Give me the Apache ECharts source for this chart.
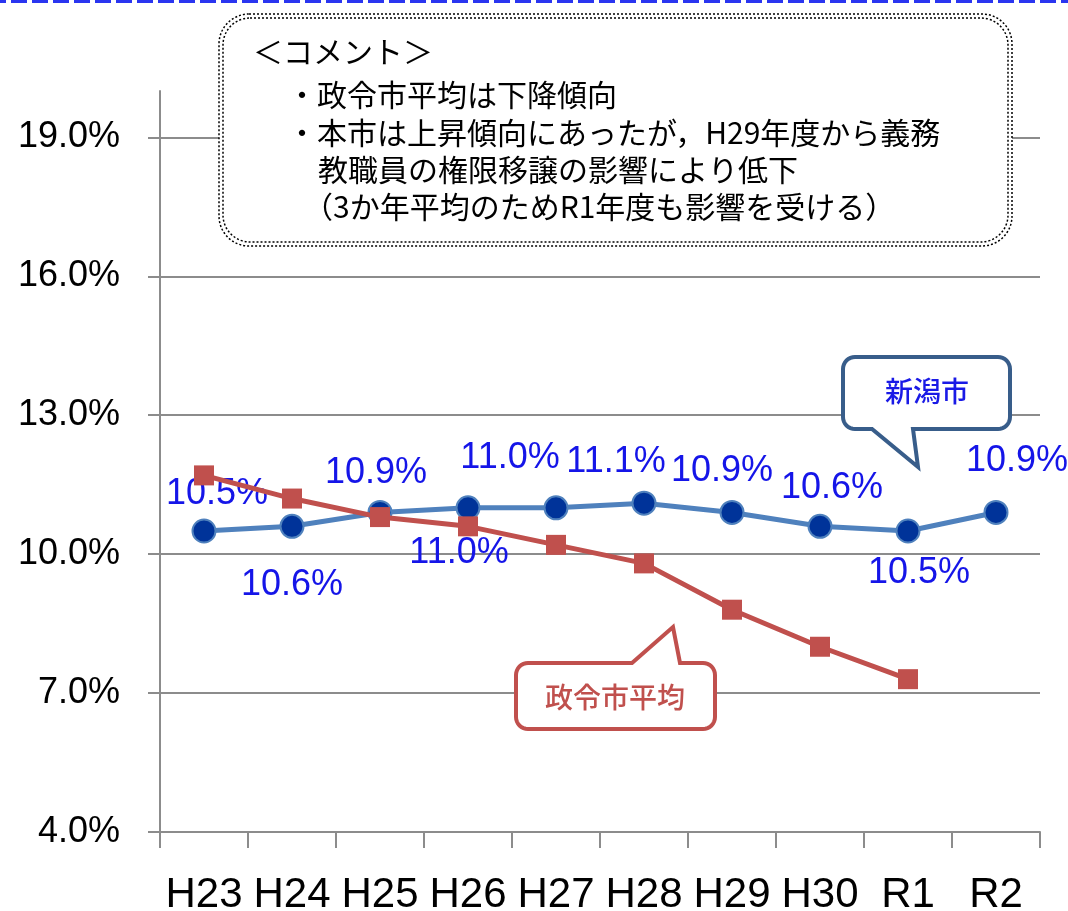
<!DOCTYPE html>
<html><head><meta charset="utf-8">
<script src="https://cdn.jsdelivr.net/npm/echarts@6/dist/echarts.min.js"></script>
<style>html,body{margin:0;padding:0;background:#fff}#c{width:1068px;height:911px}</style>
</head><body><div id="c"></div>
<script>
const categories = ['H23','H24','H25','H26','H27','H28','H29','H30','R1','R2'];
const niigata = [10.5, 10.6, 10.9, 11.0, 11.0, 11.1, 10.9, 10.6, 10.5, 10.9];
const seireiAvg = [11.7, 11.2, 10.8, 10.6, 10.2, 9.8, 8.8, 8.0, 7.3, null];
const yTicks = [4, 7, 10, 13, 16, 19];
const labelOffsets = [[13,-37],[0,59],[-4,-39],[-9,45],[-46,-50],[-28,-41],[-10,-41],[12,-38],[11,42],[21,-51]];
const commentLines = ['＜コメント＞','・政令市平均は下降傾向','・本市は上昇傾向にあったが，H29年度から義務','教職員の権限移譲の影響により低下','（3か年平均のためR1年度も影響を受ける）'];
const commentPos = [[253,52],[287,95],[287,133],[318,170],[303,207]];

// rounded rectangle outline with a tail, as polygon points
function callout(x0, y0, x1, y1, r, tail, side) {
  const pts = [];
  function arc(cx, cy, a0, a1) {
    for (let k = 0; k <= 8; k++) {
      const a = a0 + (a1 - a0) * k / 8;
      pts.push([cx + r * Math.cos(a), cy + r * Math.sin(a)]);
    }
  }
  const P = Math.PI;
  arc(x0 + r, y0 + r, P, 1.5 * P);
  if (side === 'top') tail.forEach(p => pts.push(p));
  arc(x1 - r, y0 + r, 1.5 * P, 2 * P);
  arc(x1 - r, y1 - r, 0, 0.5 * P);
  if (side === 'bottom') tail.forEach(p => pts.push(p));
  arc(x0 + r, y1 - r, 0.5 * P, P);
  return pts;
}

const chart = echarts.init(document.getElementById('c'));
const gray = '#8c8c8c';
const jp = '"Noto Sans CJK JP", sans-serif';
const graphics = [
  {type:'line', shape:{x1:-10,y1:1.5,x2:1068,y2:1.5}, style:{stroke:'#2a35f0', lineWidth:3, lineDash:[16,5]}, z:10},
  {type:'rect', shape:{x:219,y:14,width:793,height:232,r:30}, style:{fill:'#fff', stroke:'#000', lineWidth:1.5, lineDash:[2,2]}, z:10},
  {type:'rect', shape:{x:223,y:18,width:785,height:224,r:27}, style:{fill:'none', stroke:'#000', lineWidth:1.5, lineDash:[2,2]}, z:10},
  {type:'polygon', shape:{points:callout(843,357,1010,429,12,[[913,429],[918,467],[872,429]],'bottom')},
    style:{fill:'#fff', stroke:'#385d8a', lineWidth:4}, z:10},
  {type:'text', x:927, y:391, style:{text:'新潟市', font:'500 28px '+jp, fill:'#1a1ae6', textAlign:'center', textVerticalAlign:'middle'}, z:11},
  {type:'polygon', shape:{points:callout(516,663,715,729,12,[[632,663],[673,627],[680,663]],'top')},
    style:{fill:'#fff', stroke:'#c0504d', lineWidth:4}, z:10},
  {type:'text', x:615, y:697, style:{text:'政令市平均', font:'500 28px '+jp, fill:'#c0504d', textAlign:'center', textVerticalAlign:'middle'}, z:11}
];
commentLines.forEach((t,i)=>{
  graphics.push({type:'text', x:commentPos[i][0], y:commentPos[i][1], style:{text:t, font:'30px '+jp, fill:'#000', textAlign:'left', textVerticalAlign:'middle'}, z:11});
});

chart.setOption({
  animation:false,
  backgroundColor:'#fff',
  grid:{left:160, right:28, top:91, bottom:79, containLabel:false, outerBoundsMode:'none'},
  xAxis:{type:'category', data:categories, boundaryGap:true,
    axisLine:{show:true, lineStyle:{color:gray, width:2}},
    axisTick:{show:true, length:16, lineStyle:{color:gray, width:2}},
    axisLabel:{fontSize:42, color:'#000', margin:42, fontFamily:'Liberation Sans', interval:0}},
  yAxis:{type:'value', min:4, max:20,
    axisLine:{show:true, lineStyle:{color:gray, width:2}},
    axisTick:{show:true, length:12, customValues:yTicks, lineStyle:{color:gray, width:2}},
    axisLabel:{fontSize:36, color:'#000', margin:40, fontFamily:'Liberation Sans', customValues:yTicks,
      formatter:v=>v.toFixed(1)+'%'},
    splitLine:{show:true, lineStyle:{color:gray, width:2}}},
  series:[
    {name:'新潟市', type:'line', data:niigata.map((v,i)=>({value:v, label:{offset:labelOffsets[i]}})),
      symbol:'circle', symbolSize:23,
      lineStyle:{color:'#4f81bd', width:5},
      itemStyle:{color:'#003399', borderColor:'#4f81bd', borderWidth:2},
      label:{show:true, position:'inside', fontSize:36, color:'#1515e8', fontFamily:'Liberation Sans',
        formatter:p=>p.value.toFixed(1)+'%'}, z:3},
    {name:'政令市平均', type:'line', data:seireiAvg,
      symbol:'rect', symbolSize:20,
      lineStyle:{color:'#c0504d', width:5},
      itemStyle:{color:'#c0504d'}, z:4}
  ],
  graphic:graphics
});
</script></body></html>
